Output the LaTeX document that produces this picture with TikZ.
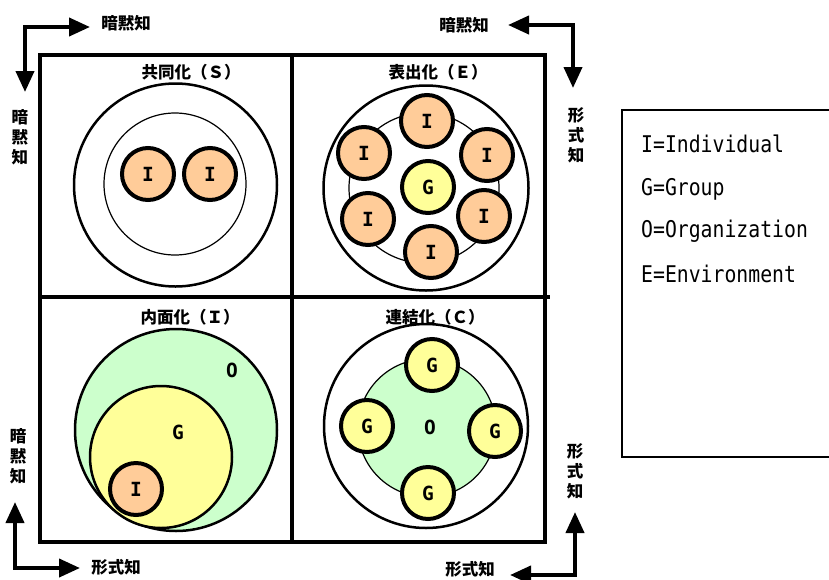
\documentclass[tikz,border=0pt]{standalone}
\usepackage{fontspec}
\usetikzlibrary{arrows.meta}
\newfontfamily\jpfont{Noto Sans CJK JP}
\newfontfamily\letfont{DejaVu Sans Mono}
\newfontfamily\legfont[FakeStretch=0.86]{DejaVu Sans Mono}
\definecolor{cI}{RGB}{255,204,153}
\definecolor{cG}{RGB}{255,255,153}
\definecolor{cO}{RGB}{204,255,204}
\begin{document}
\begin{tikzpicture}[x=1pt,y=-1pt,
  ttl/.style={font=\jpfont\bfseries\fontsize{16.5}{18}\selectfont, inner sep=0},
  vt/.style={font=\jpfont\bfseries\fontsize{16.5}{20}\selectfont, align=center, inner sep=0},
  lab/.style={font=\letfont\bfseries\fontsize{19.5}{19.5}\selectfont, inner sep=0},
  small/.style={circle, draw, line width=4pt, minimum size=52pt, inner sep=0, font=\letfont\bfseries\fontsize{19.5}{19.5}\selectfont},
  indv/.style={small, fill=cI},
  grpc/.style={small, fill=cG},
  ring/.style={circle, draw, line width=2.5pt, inner sep=0},
  thinring/.style={circle, draw, line width=1.2pt, inner sep=0},
  arr/.style={line width=4pt, {Triangle[length=21pt,width=18pt]}-{Triangle[length=21pt,width=18pt]}},
  leg/.style={font=\legfont\fontsize{23}{23}\selectfont, inner sep=0, anchor=base west},
]
\useasboundingbox (0,0) rectangle (829,579);

% legend box
\draw[line width=1.5pt] (622,110) -- (845,110) -- (845,457) -- (622,457) -- cycle;
\node[leg] (l1) at (641,152) {I=Individual};
\node[leg] (l2) at (641,195) {G=Group};
\node[leg] (l3) at (641,237) {O=Organization};
\node[leg] (l4) at (641,282) {E=Environment};

% quadrant frame
\draw[line width=4pt] (40,55) rectangle (545,542);
\draw[line width=4pt] (38,297) -- (550,297);
\draw[line width=4pt] (292,55) -- (292,542);

% titles
\node[ttl] (tS) at (191,72) {共同化（Ｓ）};
\node[ttl] (tE) at (438,72) {表出化（Ｅ）};
\node[ttl] (tI) at (190,317) {内面化（Ｉ）};
\node[ttl] (tC) at (435,317) {連結化（Ｃ）};

% S quadrant
\node[ring, minimum size=203pt] (sOut) at (175.5,185) {};
\node[thinring, minimum size=142pt] (sIn) at (175,184) {};
\node[indv] (sI1) at (148,174) {I};
\node[indv] (sI2) at (210,174) {I};

% E quadrant
\node[ring, minimum size=205pt] (eOut) at (426,188) {};
\node[thinring, minimum size=150pt] (eIn) at (424,188) {};
\node[grpc] (eG) at (428,187) {G};
\node[indv] (eI1) at (427,121) {I};
\node[indv] (eI2) at (364,153) {I};
\node[indv] (eI3) at (487,155) {I};
\node[indv] (eI4) at (368,219) {I};
\node[indv] (eI5) at (484,216) {I};
\node[indv] (eI6) at (431,252) {I};

% I quadrant
\node[ring, fill=cO, minimum size=202pt] (iO) at (176,430) {};
\node[ring, fill=cG, minimum size=142pt] (iG) at (161,457) {};
\node[indv, minimum size=52pt] (iI) at (136,489) {I};
\node[lab] (iOl) at (232,370) {O};
\node[lab] (iGl) at (178,432) {G};

% C quadrant
\node[ring, minimum size=204pt] (cOut) at (426,426) {};
\node[thinring, fill=cO, minimum size=138pt] (cO) at (427,428) {};
\node[lab] (cOl) at (430,427) {O};
\node[grpc] (cG1) at (432,365) {G};
\node[grpc] (cG2) at (367,426) {G};
\node[grpc] (cG3) at (495,431) {G};
\node[grpc] (cG4) at (428,493) {G};

% corner arrows
\coordinate (a1h) at (90,27);  \coordinate (a1c) at (25,27);  \coordinate (a1v) at (25,92);
\coordinate (a2h) at (508,25); \coordinate (a2c) at (573,25); \coordinate (a2v) at (573,88);
\coordinate (a3v) at (15,502); \coordinate (a3c) at (15,568); \coordinate (a3h) at (80,568);
\coordinate (a4v) at (575,512);\coordinate (a4c) at (575,575);\coordinate (a4h) at (510,575);
\draw[arr] (a1h) -- (a1c) -- (a1v);
\draw[arr] (a2h) -- (a2c) -- (a2v);
\draw[arr] (a3v) -- (a3c) -- (a3h);
\draw[arr] (a4v) -- (a4c) -- (a4h);

% axis labels
\node[ttl] (x1) at (126,23) {暗黙知};
\node[ttl] (x2) at (464,25) {暗黙知};
\node[ttl] (x3) at (116,567) {形式知};
\node[ttl] (x4) at (470,569) {形式知};
\node[vt] (v1) at (20,137) {暗\\黙\\知};
\node[vt] (v2) at (18,456) {暗\\黙\\知};
\node[vt] (v3) at (576,135) {形\\式\\知};
\node[vt] (v4) at (575,471) {形\\式\\知};
\end{tikzpicture}
\end{document}
